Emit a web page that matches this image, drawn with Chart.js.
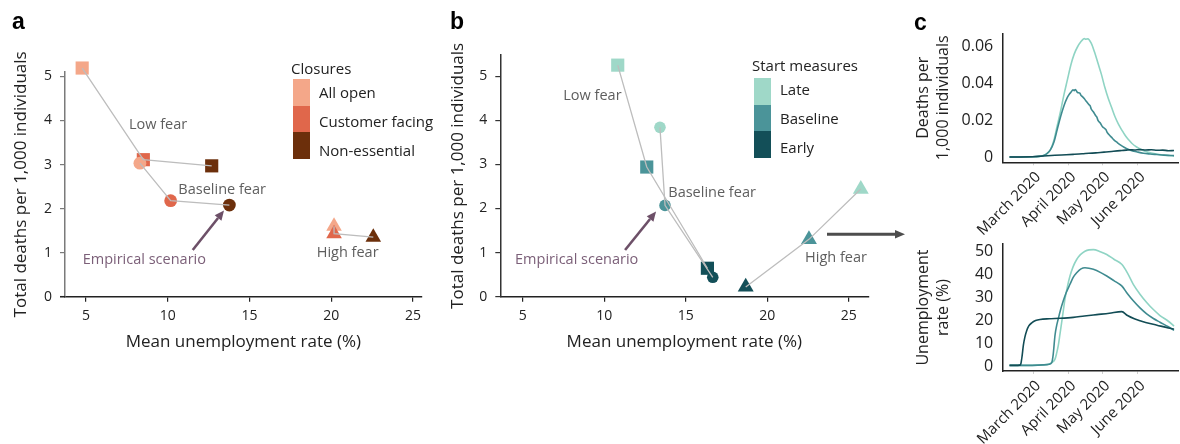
<!DOCTYPE html>
<html>
<head>
<meta charset="utf-8">
<title>Fear, closures and timing of measures</title>
<script src="https://cdn.jsdelivr.net/npm/chart.js@4.4.1/dist/chart.umd.min.js"></script>
<style>
  html, body { margin: 0; padding: 0; background: #fff; }
  #fig { position: relative; width: 1180px; height: 444px; overflow: hidden; font-family: "Open Sans", "DejaVu Sans", sans-serif; }
  #fig canvas { position: absolute; }
  .letter { position: absolute; font-family: "Liberation Sans", Arial, sans-serif; font-weight: bold; font-size: 23px; line-height: 23px; color: #000; }
  .legend { position: absolute; font-size: 15px; color: #222; }
  .legend .ttl { position: absolute; left: 0; white-space: nowrap; line-height: 20px; }
  .legend .sw { position: absolute; width: 17px; }
  .legend .lab { position: absolute; white-space: nowrap; line-height: 20px; }
  #bridge { position: absolute; left: 820px; top: 224px; }
</style>
</head>
<body>
<div id="fig">
  <canvas id="panelA" width="440" height="360" style="left:0;top:0;"></canvas>
  <canvas id="panelB" width="440" height="360" style="left:440px;top:0;"></canvas>
  <canvas id="panelC2" width="300" height="219" style="left:880px;top:225px;"></canvas>
  <canvas id="panelC1" width="300" height="240" style="left:880px;top:0;"></canvas>
  <div class="letter" style="left:12px;top:10px;">a</div>
  <div class="letter" style="left:450px;top:10px;">b</div>
  <div class="letter" style="left:914px;top:11px;">c</div>
  <div class="legend" id="legendA" style="left:291px;top:58px;"></div>
  <div class="legend" id="legendB" style="left:752px;top:55px;"></div>
  <svg id="bridge" width="92" height="20">
    <line x1="7" y1="10.3" x2="77" y2="10.3" stroke="#4d4d4d" stroke-width="3"/>
    <polygon points="75,6 85,10.3 75,14.6" fill="#4d4d4d"/>
  </svg>
</div>

<script>
// ---------- Panel a: closure policy under three fear scenarios ----------
const fearLevels = ['Low fear', 'Baseline fear', 'High fear'];
const closureLevels = ['All open', 'Customer facing', 'Non-essential'];
const closureColors = ['#f4a789', '#e0674b', '#6c2f0b'];
const closureUnempLowFear = [4.77, 8.51, 12.69];
const closureDeathsLowFear = [5.19, 3.11, 2.97];
const closureUnempBaseFear = [8.30, 10.18, 13.77];
const closureDeathsBaseFear = [3.03, 2.18, 2.08];
const closureUnempHighFear = [20.17, 20.17, 22.57];
const closureDeathsHighFear = [1.60, 1.43, 1.35];

// ---------- Panel b: start date of measures under three fear scenarios ----------
const startLevels = ['Late', 'Baseline', 'Early'];
const startColors = ['#9fd8c8', '#4b9499', '#134f58'];
const startUnempLowFear = [10.83, 12.61, 16.33];
const startDeathsLowFear = [5.25, 2.94, 0.645];
const startUnempBaseFear = [13.42, 13.73, 16.66];
const startDeathsBaseFear = [3.84, 2.07, 0.44];
const startUnempHighFear = [25.74, 22.56, 18.68];
const startDeathsHighFear = [2.44, 1.30, 0.22];

const scatterTicksX = [5, 10, 15, 20, 25];
const scatterTicksY = [0, 1, 2, 3, 4, 5];

// ---------- Panel c: daily deaths and unemployment over time (day of year 2020) ----------
const monthTickDays = [61, 92, 122, 153];
const monthTickLabels = ['March 2020', 'April 2020', 'May 2020', 'June 2020'];
const deathTicks = [0, 0.02, 0.04, 0.06];
const deathTickLabels = ['0', '0.02', '0.04', '0.06'];
const unempTicks = [0, 10, 20, 30, 40, 50];

const lateDeathDays = [40, 50, 60, 66, 70, 73, 76, 79, 82, 85, 88, 91, 94, 97, 100, 103, 105, 106, 107, 109, 112, 115, 118, 121, 124, 127, 130, 133, 136, 139, 142, 145, 148, 152, 156, 160, 165, 170, 175, 180, 185];
const lateDeaths = [0.0002, 0.0002, 0.0003, 0.0005, 0.001, 0.002, 0.004, 0.009, 0.017, 0.025, 0.034, 0.042, 0.050, 0.056, 0.060, 0.0628, 0.0642, 0.0645, 0.0641, 0.0643, 0.062, 0.057, 0.051, 0.045, 0.038, 0.032, 0.027, 0.022, 0.018, 0.0148, 0.0118, 0.0095, 0.0075, 0.0056, 0.0042, 0.0032, 0.0023, 0.0017, 0.0013, 0.001, 0.0008];

const baseDeathDays = [40, 60, 66, 70, 73, 76, 79, 82, 85, 88, 91, 93, 94, 96, 97, 98, 100, 102, 103, 104, 106, 107, 108, 110, 111, 112, 114, 116, 117, 118, 120, 122, 124, 125, 126, 128, 130, 132, 135, 138, 141, 145, 148, 152, 158, 164, 170, 176, 182, 185];
const baseDeaths = [0.0002, 0.0003, 0.0005, 0.001, 0.002, 0.004, 0.008, 0.015, 0.022, 0.028, 0.0325, 0.0345, 0.0352, 0.0366, 0.0362, 0.0368, 0.0352, 0.0348, 0.0336, 0.0331, 0.0318, 0.0309, 0.0301, 0.0286, 0.0281, 0.0262, 0.0246, 0.0226, 0.0218, 0.0200, 0.0186, 0.0166, 0.0156, 0.0150, 0.0136, 0.0121, 0.0108, 0.0095, 0.0080, 0.0066, 0.0055, 0.0043, 0.0036, 0.0030, 0.0022, 0.0018, 0.0015, 0.0012, 0.0010, 0.0009];

const earlyDeathDays = [40, 60, 70, 80, 90, 96, 104, 110, 116, 120, 125, 130, 135, 139, 143, 146, 150, 155, 160, 165, 170, 175, 180, 185];
const earlyDeaths = [0.0002, 0.0003, 0.0007, 0.0011, 0.0014, 0.0016, 0.0019, 0.0022, 0.0024, 0.0026, 0.0029, 0.0032, 0.0035, 0.0037, 0.0039, 0.0041, 0.0040, 0.0042, 0.0040, 0.0041, 0.0038, 0.0039, 0.0036, 0.0037];

const earlyUnempDays = [40, 45, 49, 50, 51, 52.2, 53.5, 55.2, 57, 59.6, 63, 66.9, 75, 84.5, 96.2, 106, 116.9, 128, 138.9, 144, 150, 160, 170, 180, 185];
const earlyUnemp = [0.3, 0.3, 0.4, 1, 4, 9, 12.5, 15.5, 17.5, 18.8, 19.8, 20.3, 20.6, 20.8, 21.2, 21.8, 22.4, 23.0, 23.7, 22.0, 20.6, 19.0, 17.8, 16.6, 16.1];

const baseUnempDays = [40, 60, 70, 75, 77.2, 78.5, 80.1, 81.5, 83, 85, 87.4, 90, 93.3, 96, 99.2, 103, 106.5, 110, 113.9, 120, 125.7, 132, 138.9, 144, 149.1, 155, 160.9, 166.8, 172.6, 180, 185];
const baseUnemp = [0.3, 0.3, 0.5, 0.8, 1.5, 5, 13.4, 17.5, 20.6, 24.5, 28.4, 32, 35.6, 38.5, 40.6, 42.3, 42.8, 42.6, 42.1, 40.8, 39.2, 37.2, 34.9, 31.5, 28.4, 25.3, 22.7, 20.7, 19.1, 17.1, 15.5];

const lateUnempDays = [40, 60, 70, 75, 77.2, 80.1, 81.5, 83, 84.5, 86, 87.4, 88.9, 91, 93.3, 96, 99.2, 102.5, 106.5, 110, 113.9, 120, 125.7, 132, 138.9, 144, 149.1, 155, 160.9, 166.8, 172.6, 180, 185];
const lateUnemp = [0.3, 0.3, 0.5, 0.9, 1.5, 3, 5.5, 9, 14, 19.1, 24, 29.2, 34.5, 39.2, 43.2, 46.4, 48.5, 50, 50.6, 50.7, 49.8, 48.6, 46.5, 44.3, 40.5, 35.6, 31.3, 27.7, 24.6, 22, 19.5, 17.4];

const cLineColors = { late: '#8fd4c4', base: '#3f8b90', early: '#124c55' };

// ---------- shared styling ----------
const FONT = '"Open Sans", "DejaVu Sans", sans-serif';
const INK = '#222222';
const NOTE = '#5e5e5e';
const EMPIRICAL = '#7b5f78';
const LINK = '#bdbdbd';

Chart.defaults.font.family = FONT;

function pts(xs, ys) { return xs.map((x, i) => ({ x: x, y: ys[i] })); }
function fixedTicks(values) { return scale => { scale.ticks = values.map(v => ({ value: v })); }; }

// draws text notes and arrows placed in data coordinates, plus an optional
// short extension of the x axis line to the left of the y axis
const notesPlugin = {
  id: 'notes',
  afterDraw(chart, args, opts) {
    const { ctx, chartArea } = chart;
    const xs = chart.scales.x, ys = chart.scales.y;
    ctx.save();
    if (opts.xAxisStub) {
      ctx.strokeStyle = INK; ctx.lineWidth = 1.5;
      ctx.beginPath();
      ctx.moveTo(chartArea.left - opts.xAxisStub, chartArea.bottom);
      ctx.lineTo(chartArea.left, chartArea.bottom);
      ctx.stroke();
    }
    (opts.texts || []).forEach(t => {
      ctx.font = '14.5px ' + FONT;
      ctx.fillStyle = t.color || NOTE;
      ctx.textBaseline = 'middle';
      ctx.textAlign = 'left';
      ctx.fillText(t.text, xs.getPixelForValue(t.x), ys.getPixelForValue(t.y));
    });
    (opts.arrows || []).forEach(a => {
      const x0 = xs.getPixelForValue(a.from[0]), y0 = ys.getPixelForValue(a.from[1]);
      const x1 = xs.getPixelForValue(a.to[0]), y1 = ys.getPixelForValue(a.to[1]);
      const ang = Math.atan2(y1 - y0, x1 - x0);
      const head = 9.5, half = 4.3;
      const bx = x1 - Math.cos(ang) * head, by = y1 - Math.sin(ang) * head;
      ctx.strokeStyle = a.color; ctx.fillStyle = a.color; ctx.lineWidth = 2.6;
      ctx.beginPath(); ctx.moveTo(x0, y0); ctx.lineTo(bx, by); ctx.stroke();
      ctx.beginPath();
      ctx.moveTo(x1, y1);
      ctx.lineTo(bx + Math.sin(ang) * half, by - Math.cos(ang) * half);
      ctx.lineTo(bx - Math.sin(ang) * half, by + Math.cos(ang) * half);
      ctx.closePath(); ctx.fill();
    });
    ctx.restore();
  }
};

function scatterPanel(id, p) {
  const markers = ['rect', 'circle', 'triangle'];
  const pointSets = p.series.map((s, i) => ({
    label: fearLevels[i],
    data: pts(s.x, s.y),
    showLine: false,
    pointStyle: markers[i],
    pointRadius: p.radius[i],
    pointBackgroundColor: p.colors,
    pointBorderWidth: 0,
    pointBorderColor: 'rgba(0,0,0,0)',
    clip: false,
    order: 3 - i
  }));
  const linkSets = p.series.map((s, i) => ({
    label: fearLevels[i] + ' path',
    data: pts(s.x, s.y),
    showLine: true,
    borderColor: LINK,
    borderWidth: 1.3,
    pointRadius: 0,
    clip: false,
    order: 0
  }));
  return new Chart(document.getElementById(id), {
    type: 'scatter',
    data: { datasets: linkSets.concat(pointSets) },
    plugins: [notesPlugin],
    options: {
      responsive: false, animation: false, devicePixelRatio: 1,
      layout: { padding: { left: 0, right: p.padRight, top: p.padTop, bottom: 0 } },
      plugins: { legend: { display: false }, tooltip: { enabled: false }, notes: p.notes },
      scales: {
        x: {
          type: 'linear', min: p.xMin, max: p.xMax,
          afterBuildTicks: fixedTicks(scatterTicksX),
          afterFit: s => { s.height = 63.3; },
          grid: { display: true, drawOnChartArea: false, drawTicks: true, tickLength: 5, color: INK, lineWidth: 1.2 },
          border: { display: true, color: INK, width: 1.5 },
          ticks: { font: { size: 14 }, color: INK, padding: 6, maxRotation: 0, autoSkip: false },
          title: { display: true, text: 'Mean unemployment rate (%)', font: { size: 17 }, color: INK, padding: { top: 0, bottom: 7.8 } }
        },
        y: {
          type: 'linear', min: 0, max: p.yMax,
          afterBuildTicks: fixedTicks(scatterTicksY),
          afterFit: s => { s.width = p.yWidth; },
          grid: { display: true, drawOnChartArea: false, drawTicks: true, tickLength: 5, color: p.yAxisColor, lineWidth: 1.2 },
          border: { display: true, color: p.yAxisColor, width: 1.5 },
          ticks: { font: { size: 14 }, color: INK, padding: 8, autoSkip: false },
          title: { display: true, text: 'Total deaths per 1,000 individuals', font: { size: 17 }, color: INK, padding: { top: p.yTitlePad, bottom: 0 } }
        }
      }
    }
  });
}

scatterPanel('panelA', {
  series: [
    { x: closureUnempLowFear, y: closureDeathsLowFear },
    { x: closureUnempBaseFear, y: closureDeathsBaseFear },
    { x: closureUnempHighFear, y: closureDeathsHighFear }
  ],
  colors: closureColors,
  radius: [9.3, 6.4, 9],
  xMin: 3.72, xMax: 25.53, yMax: 5.1,
  yWidth: 65, padRight: 18.3, padTop: 72, yTitlePad: 10.8, yAxisColor: '#7a7a7a',
  notes: {
    xAxisStub: 5,
    texts: [
      { text: fearLevels[0], x: 7.63, y: 3.90 },
      { text: fearLevels[1], x: 10.65, y: 2.425 },
      { text: fearLevels[2], x: 19.11, y: 0.986 },
      { text: 'Empirical scenario', x: 4.80, y: 0.834, color: EMPIRICAL }
    ],
    arrows: [{ from: [11.53, 1.06], to: [13.44, 1.955], color: '#6d5068' }]
  }
});

scatterPanel('panelB', {
  series: [
    { x: startUnempLowFear, y: startDeathsLowFear },
    { x: startUnempBaseFear, y: startDeathsBaseFear },
    { x: startUnempHighFear, y: startDeathsHighFear }
  ],
  colors: startColors,
  radius: [9.3, 5.8, 9.2],
  xMin: 3.626, xMax: 26.2, yMax: 5.48,
  yWidth: 60.3, padRight: 11.7, padTop: 55, yTitlePad: 7.8, yAxisColor: '#333333',
  notes: {
    texts: [
      { text: fearLevels[0], x: 7.49, y: 4.56 },
      { text: fearLevels[1], x: 13.93, y: 2.36 },
      { text: fearLevels[2], x: 22.32, y: 0.886 },
      { text: 'Empirical scenario', x: 4.53, y: 0.834, color: EMPIRICAL }
    ],
    arrows: [{ from: [11.28, 1.06], to: [13.18, 1.93], color: '#6d5068' }]
  }
});

function timePanel(id, p) {
  return new Chart(document.getElementById(id), {
    type: 'scatter',
    data: {
      datasets: p.series.map(s => ({
        label: s.label,
        data: pts(s.days, s.values),
        showLine: true,
        borderColor: s.color,
        borderWidth: 1.6,
        pointRadius: 0,
        cubicInterpolationMode: 'monotone'
      }))
    },
    options: {
      responsive: false, animation: false, devicePixelRatio: 1,
      layout: { padding: { left: 0, right: 2, top: p.padTop, bottom: 0 } },
      plugins: { legend: { display: false }, tooltip: { enabled: false } },
      scales: {
        x: {
          type: 'linear', min: 34, max: 188.5,
          afterBuildTicks: fixedTicks(monthTickDays),
          afterFit: s => { s.height = p.xHeight; },
          grid: { display: true, drawOnChartArea: false, drawTicks: true, tickLength: 3, color: '#cfcfcf' },
          border: { display: true, color: INK, width: 1.5 },
          ticks: {
            font: { size: 15 }, color: INK, padding: 3, labelOffset: 5,
            minRotation: 45, maxRotation: 45, autoSkip: false,
            callback: v => monthTickLabels[monthTickDays.indexOf(v)]
          }
        },
        y: {
          type: 'linear', min: p.yMin, max: p.yMax,
          afterBuildTicks: fixedTicks(p.yTicks),
          afterFit: s => { s.width = 122.7; },
          grid: { display: true, drawOnChartArea: false, drawTicks: false },
          border: { display: true, color: INK, width: 1.5 },
          ticks: { font: { size: 16 }, color: INK, padding: 9.5, autoSkip: false, callback: v => p.yLabels[p.yTicks.indexOf(v)] },
          title: { display: true, text: p.yTitle, font: { size: 16, lineHeight: 1.25 }, color: INK, padding: { top: 33.3, bottom: 0 } }
        }
      }
    }
  });
}

timePanel('panelC1', {
  series: [
    { label: startLevels[2], days: earlyDeathDays, values: earlyDeaths, color: cLineColors.early },
    { label: startLevels[1], days: baseDeathDays, values: baseDeaths, color: cLineColors.base },
    { label: startLevels[0], days: lateDeathDays, values: lateDeaths, color: cLineColors.late }
  ],
  yMin: -0.0027, yMax: 0.0673, yTicks: deathTicks, yLabels: deathTickLabels,
  yTitle: ['Deaths per', '1,000 individuals'],
  padTop: 33.3, xHeight: 77.7
});

timePanel('panelC2', {
  series: [
    { label: startLevels[2], days: earlyUnempDays, values: earlyUnemp, color: cLineColors.early },
    { label: startLevels[1], days: baseUnempDays, values: baseUnemp, color: cLineColors.base },
    { label: startLevels[0], days: lateUnempDays, values: lateUnemp, color: cLineColors.late }
  ],
  yMin: -2.16, yMax: 53.1, yTicks: unempTicks, yLabels: unempTicks.map(String),
  yTitle: ['Unemployment', 'rate (%)'],
  padTop: 17.7, xHeight: 73
});

// ---------- stacked-swatch legends ----------
function buildLegend(id, title, names, colors, swatchTop, labelTop) {
  const box = document.getElementById(id);
  const t = document.createElement('div');
  t.className = 'ttl'; t.style.top = '0px'; t.textContent = title;
  box.appendChild(t);
  names.forEach((name, i) => {
    const sw = document.createElement('div');
    sw.className = 'sw';
    sw.style.left = '2px';
    sw.style.top = (swatchTop + i * 26.7) + 'px';
    sw.style.height = '26.8px';
    sw.style.background = colors[i];
    box.appendChild(sw);
    const lab = document.createElement('div');
    lab.className = 'lab';
    lab.style.left = '28px';
    lab.style.top = (labelTop + i * 29) + 'px';
    lab.textContent = name;
    box.appendChild(lab);
  });
}
buildLegend('legendA', 'Closures', closureLevels, closureColors, 21, 24);
buildLegend('legendB', 'Start measures', startLevels, startColors, 23, 24);
</script>
</body>
</html>
